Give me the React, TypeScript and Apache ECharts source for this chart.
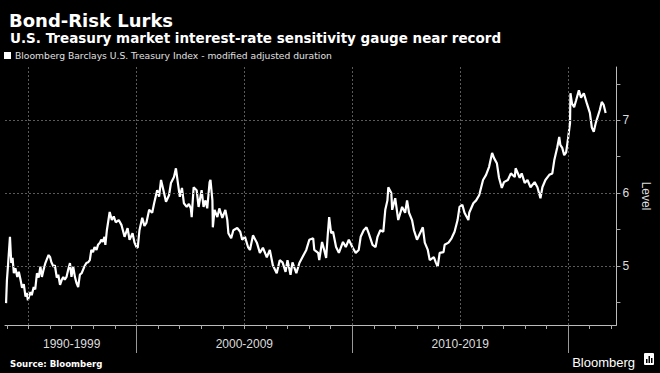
import React, { useEffect, useRef } from "react";
import * as echarts from "echarts";

// Decimal years and index duration (modified adjusted duration)
const years: number[] = [
  1993.96, 1994.0, 1994.05, 1994.14, 1994.2, 1994.26, 1994.32, 1994.39, 1994.48, 1994.55,
  1994.63, 1994.7, 1994.78, 1994.86, 1994.92, 1994.97, 1995.03, 1995.09, 1995.15, 1995.24,
  1995.31, 1995.39, 1995.47, 1995.55, 1995.62, 1995.7, 1995.78, 1995.86, 1995.93, 1996.0,
  1996.06, 1996.16, 1996.22, 1996.31, 1996.38, 1996.46, 1996.54, 1996.61, 1996.68, 1996.76,
  1996.84, 1996.92, 1996.99, 1997.07, 1997.15, 1997.22, 1997.3, 1997.38, 1997.46, 1997.53,
  1997.6, 1997.68, 1997.76, 1997.84, 1997.91, 1997.99, 1998.06, 1998.15, 1998.22, 1998.31,
  1998.37, 1998.44, 1998.52, 1998.56, 1998.63, 1998.76, 1998.86, 1998.95, 1999.04, 1999.18,
  1999.31, 1999.45, 1999.59, 1999.68, 1999.82, 1999.91, 2000.0, 2000.06, 2000.14, 2000.27,
  2000.37, 2000.46, 2000.59, 2000.73, 2000.82, 2000.96, 2001.05, 2001.14, 2001.28, 2001.37,
  2001.51, 2001.6, 2001.74, 2001.83, 2001.92, 2002.01, 2002.11, 2002.2, 2002.33, 2002.43,
  2002.52, 2002.56, 2002.65, 2002.79, 2002.88, 2003.02, 2003.11, 2003.2, 2003.28, 2003.39,
  2003.43, 2003.52, 2003.54, 2003.62, 2003.75, 2003.84, 2003.98, 2004.12, 2004.21, 2004.26,
  2004.39, 2004.49, 2004.67, 2004.81, 2004.9, 2005.03, 2005.17, 2005.26, 2005.4, 2005.58,
  2005.72, 2005.86, 2006.04, 2006.18, 2006.32, 2006.5, 2006.64, 2006.77, 2006.91, 2007.0,
  2007.14, 2007.23, 2007.41, 2007.55, 2007.69, 2007.87, 2008.01, 2008.19, 2008.24, 2008.42,
  2008.47, 2008.6, 2008.7, 2008.79, 2008.88, 2008.93, 2009.02, 2009.11, 2009.25, 2009.38,
  2009.57, 2009.7, 2009.84, 2010.02, 2010.16, 2010.3, 2010.39, 2010.53, 2010.66, 2010.76,
  2010.94, 2011.08, 2011.17, 2011.3, 2011.44, 2011.53, 2011.63, 2011.67, 2011.81, 2011.85,
  2011.99, 2012.13, 2012.31, 2012.45, 2012.54, 2012.63, 2012.77, 2012.86, 2013.0, 2013.14,
  2013.27, 2013.36, 2013.5, 2013.59, 2013.78, 2013.87, 2013.96, 2014.05, 2014.23, 2014.28,
  2014.46, 2014.6, 2014.74, 2014.88, 2014.97, 2015.1, 2015.2, 2015.38, 2015.42, 2015.61,
  2015.74, 2015.88, 2016.06, 2016.2, 2016.34, 2016.48, 2016.57, 2016.7, 2016.8, 2016.93,
  2017.03, 2017.21, 2017.35, 2017.53, 2017.57, 2017.76, 2017.85, 2017.99, 2018.12, 2018.26,
  2018.45, 2018.58, 2018.72, 2018.81, 2018.95, 2019.13, 2019.27, 2019.36, 2019.5, 2019.59,
  2019.64, 2019.73, 2019.82, 2019.91, 2020.0, 2020.09, 2020.11, 2020.18, 2020.28, 2020.37,
  2020.5, 2020.6, 2020.73, 2020.87, 2021.01, 2021.1, 2021.19, 2021.28, 2021.47, 2021.56,
  2021.65, 2021.74,
];

const levels: number[] = [
  4.49, 4.81, 5.01, 5.4, 5.04, 5.11, 4.9, 4.97, 4.85, 4.92,
  4.81, 4.7, 4.75, 4.58, 4.63, 4.53, 4.59, 4.64, 4.6, 4.71,
  4.68, 4.9, 4.84, 4.99, 4.85, 4.95, 5.04, 5.1, 5.15, 5.12,
  5.05, 4.99, 5.01, 4.84, 4.88, 4.74, 4.81, 4.85, 4.81, 4.85,
  4.95, 5.04, 4.85, 4.99, 4.85, 4.77, 4.71, 4.88, 4.9, 4.95,
  5.0, 5.04, 5.05, 5.08, 5.22, 5.19, 5.26, 5.22, 5.29, 5.32,
  5.36, 5.33, 5.4, 5.29, 5.49, 5.74, 5.63, 5.68, 5.6, 5.63,
  5.56, 5.4, 5.52, 5.36, 5.45, 5.32, 5.26, 5.25, 5.49, 5.66,
  5.55, 5.59, 5.77, 5.73, 5.86, 6.04, 5.95, 6.18, 6.0, 5.88,
  5.97, 6.14, 6.22, 6.34, 6.14, 5.95, 6.07, 5.86, 5.81, 5.85,
  5.79, 5.67, 6.08, 6.04, 5.81, 6.04, 5.81, 5.9, 5.79, 6.15,
  6.18, 5.9, 5.53, 5.77, 5.67, 5.79, 5.66, 5.77, 5.63, 5.45,
  5.38, 5.49, 5.52, 5.47, 5.36, 5.4, 5.26, 5.22, 5.42, 5.32,
  5.18, 5.25, 5.12, 5.22, 5.01, 4.9, 5.08, 5.05, 4.92, 5.08,
  4.88, 5.05, 4.9, 5.04, 5.12, 5.22, 5.36, 5.38, 5.22, 5.18,
  5.08, 5.33, 5.22, 5.11, 5.49, 5.67, 5.45, 5.47, 5.26, 5.18,
  5.33, 5.26, 5.36, 5.25, 5.18, 5.22, 5.4, 5.49, 5.53, 5.45,
  5.29, 5.26, 5.4, 5.49, 5.47, 5.77, 5.9, 6.08, 6.0, 5.77,
  5.93, 5.63, 5.81, 5.73, 5.9, 5.73, 5.63, 5.49, 5.36, 5.45,
  5.53, 5.32, 5.22, 5.08, 5.12, 5.05, 4.99, 5.18, 5.19, 5.29,
  5.32, 5.38, 5.47, 5.63, 5.81, 5.84, 5.73, 5.63, 5.73, 5.86,
  5.9, 5.97, 6.18, 6.25, 6.36, 6.55, 6.48, 6.41, 6.21, 6.07,
  6.15, 6.18, 6.27, 6.22, 6.34, 6.21, 6.27, 6.14, 6.18, 6.08,
  6.15, 6.08, 5.93, 6.08, 6.18, 6.25, 6.27, 6.45, 6.63, 6.77,
  6.66, 6.62, 6.52, 6.56, 6.75, 6.96, 7.37, 7.23, 7.18, 7.27,
  7.41, 7.31, 7.37, 7.23, 7.1, 6.9, 6.84, 6.96, 7.14, 7.25,
  7.21, 7.1,
];

const yearTicks: number[] = [
  1994, 1995, 1996, 1997, 1998, 1999, 2000, 2001, 2002, 2003, 2004, 2005, 2006, 2007,
  2008, 2009, 2010, 2011, 2012, 2013, 2014, 2015, 2016, 2017, 2018, 2019, 2020, 2021, 2022,
];
const decadeBounds: number[] = [2000, 2010, 2020];
const decadeLabelAt: number[] = [1997, 2005, 2015];
const decadeLabels: string[] = ["1990-1999", "2000-2009", "2010-2019"];
const gridYears: number[] = [1995, 2000, 2005, 2010, 2015, 2020];
const levelLabels: number[] = [5, 6, 7];
const levelTicks: number[] = [4.5, 5, 5.5, 6, 6.5, 7, 7.5];

const X_MIN = 1993.91;
const X_MAX = 2022.24;
const Y_MIN = 4.19;
const Y_MAX = 7.73;

const SERIES_NAME = "Bloomberg Barclays U.S. Treasury Index - modified adjusted duration";

export default function App() {
  const ref = useRef<HTMLDivElement>(null);

  useEffect(() => {
    document.body.style.margin = "0";
    document.body.style.background = "#000";
    if (!ref.current) return;
    const chart = echarts.init(ref.current, undefined, { renderer: "svg" });

    const data = years.map((y, i) => [y, levels[i]]);
    const gridLineStyle = { color: "#5a5a5a", type: [2, 2] as any, width: 1 };

    chart.setOption({
      animation: false,
      backgroundColor: "#000",
      title: [
        {
          text: "Bond-Risk Lurks",
          left: 4,
          top: 6,
          textStyle: { color: "#fff", fontSize: 18, fontWeight: "bold", fontFamily: "DejaVu Sans" },
        },
        {
          text: "U.S. Treasury market interest-rate sensitivity gauge near record",
          left: 5,
          top: 26,
          textStyle: { color: "#fff", fontSize: 13.5, fontWeight: "bold", fontFamily: "DejaVu Sans" },
        },
        {
          text: "Source: Bloomberg",
          left: 5,
          top: 354,
          textStyle: { color: "#fff", fontSize: 8.6, fontWeight: "bold", fontFamily: "DejaVu Sans" },
        },
        {
          text: "Bloomberg",
          right: 20,
          top: 351,
          textStyle: { color: "#fff", fontSize: 13, fontWeight: "normal", fontFamily: "Liberation Sans" },
        },
      ],
      legend: {
        left: 4,
        top: 51,
        itemWidth: 7,
        itemHeight: 7,
        itemGap: 4,
        icon: "rect",
        padding: 0,
        data: [{ name: SERIES_NAME, itemStyle: { color: "#fff" } }],
        textStyle: { color: "#e0e0e0", fontSize: 9.2, fontFamily: "DejaVu Sans", padding: [0, 0, 0, -1] },
      },
      grid: { left: 5, right: 36, top: 67, bottom: 48 },
      xAxis: [
        {
          type: "value",
          min: X_MIN,
          max: X_MAX,
          position: "bottom",
          axisLine: { show: true, lineStyle: { color: "#bbb", width: 1 } },
          axisTick: { show: true, customValues: yearTicks, length: 4, lineStyle: { color: "#aaa" } },
          axisLabel: {
            show: true,
            customValues: decadeLabelAt,
            margin: 13,
            color: "#ddd",
            fontSize: 12,
            fontFamily: "Liberation Sans",
            formatter: (v: number) => {
              const i = decadeLabelAt.indexOf(Math.round(v));
              return i >= 0 ? decadeLabels[i] : "";
            },
          },
          splitLine: { show: false },
        },
        {
          type: "value",
          min: X_MIN,
          max: X_MAX,
          position: "bottom",
          axisLine: { show: false },
          axisTick: { show: true, customValues: decadeBounds, length: 28, lineStyle: { color: "#999" } },
          axisLabel: { show: false },
          splitLine: { show: false },
        },
      ],
      yAxis: {
        type: "value",
        position: "right",
        min: Y_MIN,
        max: Y_MAX,
        axisLine: { show: true, lineStyle: { color: "#bbb", width: 1 } },
        axisTick: { show: true, customValues: levelTicks, length: 4, lineStyle: { color: "#aaa" } },
        axisLabel: {
          show: true,
          customValues: levelLabels,
          margin: 6,
          color: "#ddd",
          fontSize: 12,
          fontFamily: "Liberation Sans",
        },
        splitLine: { show: false },
        name: "Level",
        nameLocation: "middle",
        nameRotate: -90,
        nameGap: 18,
        nameTextStyle: { color: "#ddd", fontSize: 12, fontFamily: "Liberation Sans" },
      },
      series: [
        {
          name: "gridlines",
          type: "line",
          xAxisIndex: 0,
          z: 1,
          data: [],
          silent: true,
          markLine: {
            silent: true,
            symbol: "none",
            label: { show: false },
            lineStyle: gridLineStyle,
            data: [
              ...gridYears.map((y) => ({ xAxis: y })),
              ...levelLabels.map((v) => ({ yAxis: v })),
            ],
          },
        },
        {
          name: SERIES_NAME,
          type: "line",
          xAxisIndex: 0,
          z: 3,
          data,
          showSymbol: false,
          symbol: "none",
          lineStyle: { color: "#fff", width: 2.2 },
          itemStyle: { color: "#fff" },
        },
      ],
      graphic: [
        {
          type: "group",
          left: 644,
          top: 353,
          children: [
            { type: "rect", shape: { x: 0, y: 0, width: 10, height: 12, r: 1 }, style: { fill: "#fff" } },
            { type: "rect", shape: { x: 2, y: 6, width: 1.5, height: 4 }, style: { fill: "#000" } },
            { type: "rect", shape: { x: 4.5, y: 3, width: 1.5, height: 7 }, style: { fill: "#000" } },
            { type: "rect", shape: { x: 7, y: 5, width: 1.5, height: 5 }, style: { fill: "#000" } },
          ],
        },
      ],
    });

    return () => chart.dispose();
  }, []);

  return <div ref={ref} style={{ width: 660, height: 373, background: "#000" }} />;
}
